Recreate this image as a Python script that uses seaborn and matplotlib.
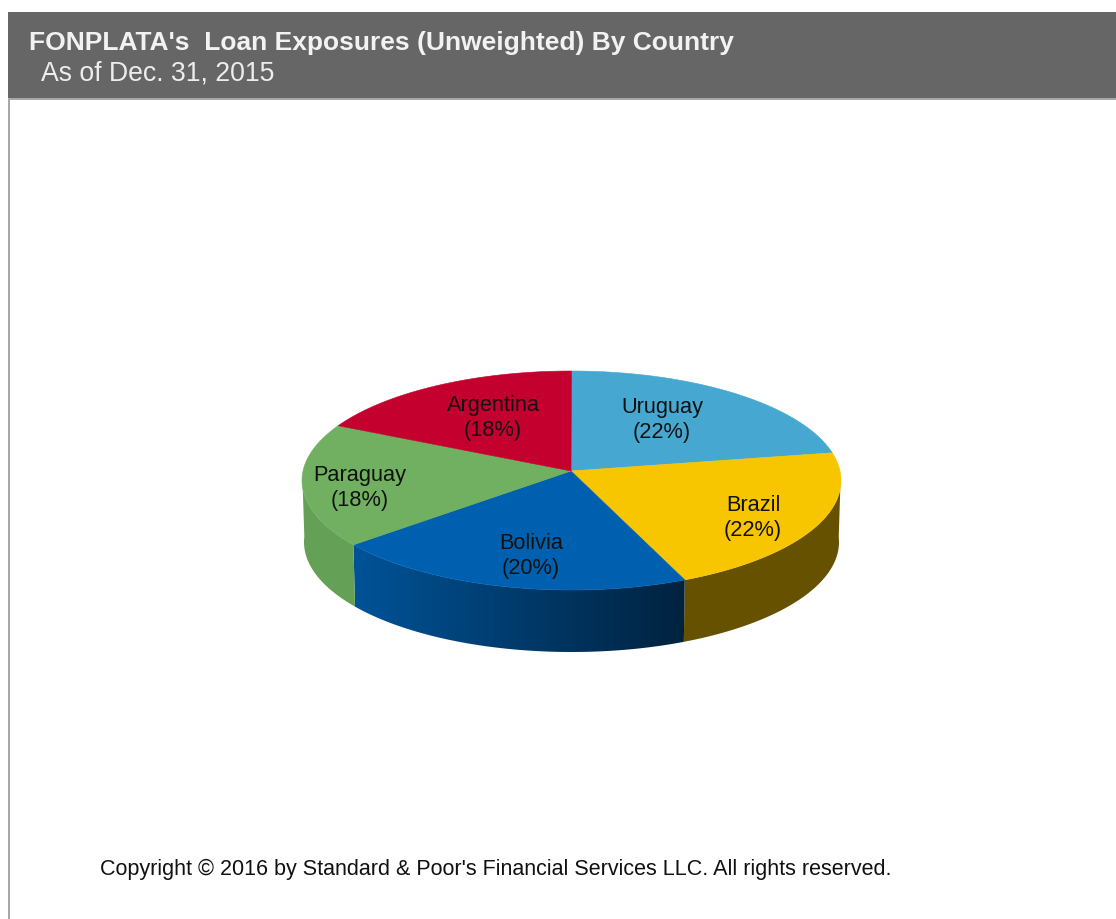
import numpy as np
import matplotlib
matplotlib.use("Agg")
import matplotlib.pyplot as plt
from matplotlib.colors import to_rgb
from matplotlib.patches import Polygon
import seaborn as sns

# Loan exposure shares, clockwise from twelve o'clock
countries = ["Uruguay", "Brazil", "Bolivia", "Paraguay", "Argentina"]
shares = [22, 22, 20, 18, 18]
top_colors = ["#46A8D0", "#F7C600", "#0060B0", "#70B060", "#C4002F"]

title_text = "FONPLATA's  Loan Exposures (Unweighted) By Country"
subtitle_text = "As of Dec. 31, 2015"
copyright_text = "Copyright © 2016 by Standard & Poor's Financial Services LLC. All rights reserved."

sns.set_theme(style="white")
plt.rcParams["font.family"] = ["Liberation Sans", "DejaVu Sans"]

fig = plt.figure(figsize=(11.16, 9.19), dpi=100)
ax = fig.add_axes([0, 0, 1, 1])
ax.axis("off")

# Tilted-disc geometry: the hub sits above the centre of the rim ellipse
HUB = np.array([571.0, 471.0])
CX = 571.5
TOP_RX, TOP_RY, TOP_CY = 269.5, 109.5, 480.5
BOT_RX, BOT_RY, BOT_CY = 267.5, 110.0, 542.0


def rim_param(angle):
    """Ellipse parameter where a ray from the hub at a true pie angle meets the rim."""
    squash = 0.39 - 0.025 * np.cos(angle)  # the far-left side reads slightly less foreshortened
    dx, dy = np.cos(angle), squash * np.sin(angle)
    off = TOP_CY - HUB[1]  # hub height above the ellipse centre
    a = (dx / TOP_RX) ** 2 + (dy / TOP_RY) ** 2
    b = 2 * dy * off / TOP_RY ** 2
    c = (off / TOP_RY) ** 2 - 1
    r = (-b + np.sqrt(b * b - 4 * a * c)) / (2 * a)
    x, y = r * dx, r * dy + off
    return np.arctan2(y / TOP_RY, x / TOP_RX)


def rim(t, rx, ry, cy):
    return CX + rx * np.cos(t), cy - ry * np.sin(t)


# Slice boundaries in true pie angles, running clockwise from the top
edges = np.pi / 2 - np.cumsum([0] + shares) / sum(shares) * 2 * np.pi
params = np.unwrap([rim_param(a) for a in edges])

palette = sns.color_palette(top_colors)

# Side wall brightness at the left and right end of each visible wall
wall_factor = {"Brazil": (0.41, 0.41), "Bolivia": (0.86, 0.36), "Paraguay": (0.91, 0.91)}
for i, name in enumerate(countries):
    if name not in wall_factor:
        continue
    ts = np.linspace(params[i], params[i + 1], 200)
    ts = ts[np.sin(ts) <= 0.05]  # only the part of the rim facing the viewer
    tx, ty = rim(ts, TOP_RX, TOP_RY, TOP_CY)
    bx, by = rim(ts, BOT_RX, BOT_RY, BOT_CY)
    outline = np.c_[np.r_[tx, bx[::-1]], np.r_[ty, by[::-1]]]
    f_left, f_right = wall_factor[name]
    ramp = np.linspace(f_left, f_right, 64)[None, :, None] * np.array(to_rgb(palette[i]))[None, None, :]
    image = ax.imshow(ramp, extent=[outline[:, 0].min(), outline[:, 0].max(), 919, 0],
                      aspect="auto", interpolation="bilinear", zorder=2)
    image.set_clip_path(Polygon(outline, transform=ax.transData))

ax.set_xlim(0, 1116)
ax.set_ylim(919, 0)

# Top face of the disc
for i, name in enumerate(countries):
    ts = np.linspace(params[i], params[i + 1], 200)
    xs, ys = rim(ts, TOP_RX, TOP_RY, TOP_CY)
    ax.fill(np.r_[HUB[0], xs], np.r_[HUB[1], ys], color=palette[i], lw=0.4, zorder=3)

# Slice labels
label_xy = {"Uruguay": (662, 420), "Brazil": (753, 518), "Bolivia": (531, 556),
            "Paraguay": (360, 488), "Argentina": (493, 418)}
for name, share in zip(countries, shares):
    x, y = label_xy[name]
    ax.text(x, y, f"{name}\n({share}%)", ha="center", va="center", fontsize=15.7,
            color="#111111", linespacing=1.2, zorder=4)

# Header band and frame
ax.fill([8, 1116, 1116, 8], [12, 12, 98, 98], color="#666666", lw=0, zorder=5)
ax.plot([1116, 9, 9], [99, 99, 919], color="#A6A6A6", lw=1.4, zorder=5, solid_capstyle="butt")
ax.text(29, 43, title_text, color="#F2F2F2", fontsize=19, fontweight="bold",
        ha="left", va="center", zorder=6)
ax.text(41, 73, subtitle_text, color="#EDEDED", fontsize=19.2, ha="left", va="center", zorder=6)
ax.text(100, 869, copyright_text, color="#111111", fontsize=15.5, ha="left", va="center", zorder=6)

fig.savefig("out.png", dpi=100, facecolor="white")
